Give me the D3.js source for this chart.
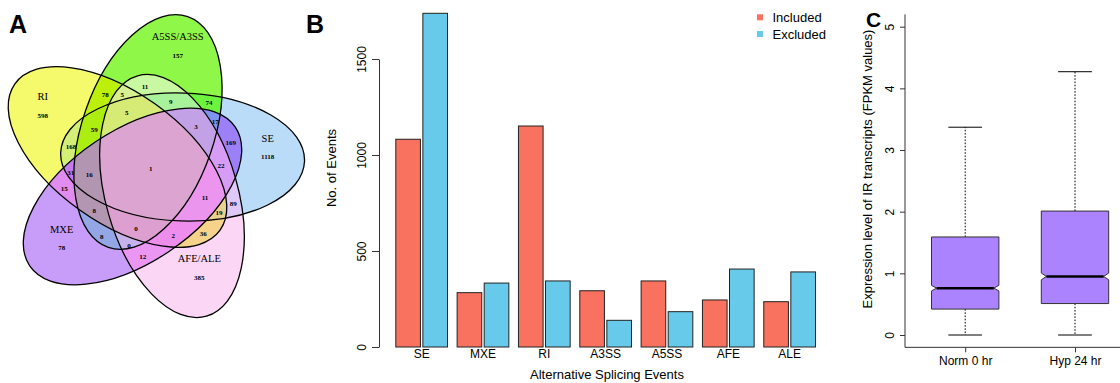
<!DOCTYPE html>
<html>
<head>
<meta charset="utf-8">
<script src="https://cdn.jsdelivr.net/npm/d3@7"></script>
<style>
  body { margin: 0; background: #fff; }
  svg { display: block; }
  text { font-family: "Liberation Sans", Arial, Helvetica, sans-serif; fill: #000; }
  .venn text { font-family: "Liberation Serif", "Times New Roman", serif; }
</style>
</head>
<body>
<div id="chart"></div>
<script>
// ---------- data ----------
// A: Venn of splicing event types
const vennSets = ['RI', 'A5SS/A3SS', 'SE', 'MXE', 'AFE/ALE'];
const vennKeys = ['R', 'G', 'S', 'M', 'F'];
const vennRegions = ['R', 'G', 'S', 'M', 'F',
  'RG', 'GF', 'RS', 'GS', 'SM', 'RM', 'GM', 'MF', 'SF', 'RF',
  'RGF', 'RGS', 'GSF', 'GSM', 'SMF', 'RSM', 'RGM', 'GMF', 'RSF', 'RMF',
  'RGSF', 'GSMF', 'RGSM', 'RGMF', 'RSMF', 'RGSMF'];
const vennCounts = [598, 157, 1118, 78, 385,
  78, 11, 168, 74, 169, 15, 8, 12, 89, 36,
  5, 59, 9, 17, 22, 31, 8, 0, 19, 2,
  5, 3, 16, 0, 11, 1];

// B: bar chart
const barCategories = ['SE', 'MXE', 'RI', 'A3SS', 'A5SS', 'AFE', 'ALE'];
const barSeries = ['Included', 'Excluded'];
const includedCounts = [1082, 283, 1151, 293, 344, 245, 236];
const excludedCounts = [1738, 333, 344, 139, 184, 406, 391];
const barTicks = [0, 500, 1000, 1500];

// C: box plot
const boxGroups = ['Norm 0 hr', 'Hyp 24 hr'];
const boxMin = [0, 0];
const boxQ1 = [0.42, 0.51];
const boxMedian = [0.76, 0.95];
const boxQ3 = [1.59, 2.01];
const boxMax = [3.37, 4.27];
const boxNotch = [0.045, 0.055];
const boxTicks = [0, 1, 2, 3, 4, 5];

// ---------- layout / style ----------
const W = 1120, H = 383;
// ellipse geometry of the five-set diagram (px, degrees)
const vennShapes = {
  S: { cx: 182.6, cy: 157, rx: 122, ry: 64, rot: 2 },
  G: { cx: 148, cy: 132, rx: 122, ry: 66, rot: -71 },
  R: { cx: 117.5, cy: 157, rx: 126, ry: 65, rot: -144.5 },
  M: { cx: 132.5, cy: 196.5, rx: 124, ry: 66, rot: 146 },
  F: { cx: 172, cy: 196, rx: 125, ry: 66, rot: 74 }
};
const regionColor = {
  R: '#f4fa6c', G: '#8ff748', S: '#badcf9', M: '#c89cf9', F: '#fcd7f5',
  RG: '#bcef0a', GF: '#c8f9a2', RS: '#d3ef78', GS: '#6ef43e', SM: '#9c80f8',
  RM: '#e08cf0', GM: '#93a6e5', MF: '#ea96f2', SF: '#dfc9f8', RF: '#f6d38a',
  RGF: '#d8f190', RGS: '#adee12', GSF: '#a8f29c', GSM: '#7d95ee', SMF: '#d79cf5',
  RSM: '#c479ec', RGM: '#b396b2', GMF: '#c8b2ea', RSF: '#e9d28f', RMF: '#ef8ded',
  RGSF: '#d6ea76', GSMF: '#c3a1e6', RGSM: '#b195b1', RGMF: '#dc9fd0', RSMF: '#ec95ee',
  RGSMF: '#dca5d1'
};
// where each count sits (px)
const regionLabelPos = {
  R: [42.7, 115.7], G: [177.7, 55.7], S: [267.7, 157.3], M: [61.7, 248.3], F: [199.3, 277.7],
  RG: [105.3, 95], GF: [145, 86.7], RS: [71, 147.3], GS: [209, 103.3], SM: [230.7, 142.7],
  RM: [64.3, 189], GM: [101.7, 237.3], MF: [142.7, 256.7], SF: [233.3, 204], RF: [203.3, 234.3],
  RGF: [122.3, 95], RGS: [94.3, 130], GSF: [170.7, 102.3], GSM: [215.3, 121.7], SMF: [221, 165.7],
  RSM: [70.7, 173.3], RGM: [94.3, 211], GMF: [129, 245.7], RSF: [219, 212.7], RMF: [173.3, 236],
  RGSF: [126.7, 113.3], GSMF: [196, 126.7], RGSM: [89.3, 175], RGMF: [136, 229], RSMF: [205, 197.7],
  RGSMF: [150.7, 169.3]
};
const setLabelPos = { R: [42.7, 96.7], G: [177.7, 36.7], S: [267.7, 138.3], M: [61.7, 229], F: [199.3, 258.3] };

const svg = d3.select('#chart').append('svg')
  .attr('width', W).attr('height', H);

// ---------- A: Venn ----------
const drawEllipse = (sel, k) => {
  const e = vennShapes[k];
  return sel.append('ellipse')
    .attr('cx', e.cx).attr('cy', e.cy)
    .attr('rx', e.rx).attr('ry', e.ry)
    .attr('transform', `rotate(${e.rot},${e.cx},${e.cy})`);
};

const defs = svg.append('defs');
vennKeys.forEach(k => drawEllipse(defs.append('clipPath').attr('id', 'vc-' + k), k));
vennRegions.forEach(r => {
  const m = defs.append('mask').attr('id', 'vm-' + r)
    .attr('maskUnits', 'userSpaceOnUse')
    .attr('x', 0).attr('y', 0).attr('width', 330).attr('height', H);
  m.append('rect').attr('width', 330).attr('height', H).attr('fill', '#fff');
  vennKeys.filter(k => !r.includes(k)).forEach(k => drawEllipse(m, k).attr('fill', '#000'));
});

const venn = svg.append('g').attr('class', 'venn');
vennRegions.forEach(r => {
  let g = venn.append('g').attr('mask', `url(#vm-${r})`);
  r.split('').forEach(k => { g = g.append('g').attr('clip-path', `url(#vc-${k})`); });
  g.append('rect').attr('width', 330).attr('height', H).attr('fill', regionColor[r]);
});
vennKeys.forEach(k => {
  drawEllipse(venn, k).attr('fill', 'none').attr('stroke', '#000').attr('stroke-width', 1.3);
});
venn.selectAll('text.count')
  .data(vennRegions)
  .join('text')
  .attr('class', 'count')
  .attr('x', r => regionLabelPos[r][0])
  .attr('y', r => regionLabelPos[r][1])
  .attr('text-anchor', 'middle')
  .attr('dominant-baseline', 'central')
  .attr('font-size', 7)
  .attr('font-weight', 'bold')
  .text((r, i) => vennCounts[i]);
venn.selectAll('text.setname')
  .data(vennKeys)
  .join('text')
  .attr('class', 'setname')
  .attr('x', k => setLabelPos[k][0])
  .attr('y', k => setLabelPos[k][1])
  .attr('text-anchor', 'middle')
  .attr('dominant-baseline', 'central')
  .attr('font-size', 10.5)
  .text((k, i) => vennSets[i]);

// ---------- B: bars ----------
const yBar = d3.scaleLinear().domain([0, 1500]).range([347, 59]);
const x0 = d3.scaleBand().domain(barCategories).range([391, 820.3]);
const x1 = d3.scaleBand().domain(barSeries).range([4.8, 56.5]).paddingInner(0.09);
const barColor = d3.scaleOrdinal().domain(barSeries).range(['#f8725f', '#68caea']);

const barData = barCategories.map((c, i) => ({
  cat: c,
  values: [
    { series: 'Included', value: includedCounts[i] },
    { series: 'Excluded', value: excludedCounts[i] }
  ]
}));

svg.append('g').selectAll('g.grp')
  .data(barData)
  .join('g')
  .attr('class', 'grp')
  .attr('transform', d => `translate(${x0(d.cat)},0)`)
  .selectAll('rect')
  .data(d => d.values)
  .join('rect')
  .attr('x', d => x1(d.series))
  .attr('y', d => yBar(d.value))
  .attr('width', x1.bandwidth())
  .attr('height', d => yBar(0) - yBar(d.value))
  .attr('fill', d => barColor(d.series))
  .attr('stroke', '#222')
  .attr('stroke-width', 1);

const yAxisB = svg.append('g')
  .attr('transform', 'translate(379,0)')
  .call(d3.axisLeft(yBar).tickValues(barTicks).tickFormat(d3.format('d')).tickSize(7).tickSizeOuter(0));
yAxisB.select('.domain').attr('stroke', '#333');
yAxisB.selectAll('.tick line').attr('stroke', '#333');
yAxisB.selectAll('.tick text')
  .attr('x', 0).attr('y', -13.5).attr('dy', null)
  .attr('transform', 'rotate(-90)')
  .attr('text-anchor', 'middle')
  .attr('font-size', 12)
  .attr('font-family', null);

svg.append('g').selectAll('text')
  .data(barCategories)
  .join('text')
  .attr('x', d => x0(d) + x0.bandwidth() / 2)
  .attr('y', 357.5)
  .attr('text-anchor', 'middle')
  .attr('font-size', 12)
  .text(d => d);

svg.append('text')
  .attr('x', 607).attr('y', 379)
  .attr('text-anchor', 'middle')
  .attr('font-size', 13)
  .text('Alternative Splicing Events');
svg.append('text')
  .attr('transform', 'translate(336,168) rotate(-90)')
  .attr('text-anchor', 'middle')
  .attr('font-size', 13)
  .text('No. of Events');

const legend = svg.append('g').selectAll('g')
  .data(barSeries)
  .join('g')
  .attr('transform', (d, i) => `translate(760,${17.3 + i * 16.7})`);
legend.append('rect')
  .attr('x', -3).attr('y', -3).attr('width', 6).attr('height', 6)
  .attr('fill', d => barColor(d));
legend.append('text')
  .attr('x', 12.5).attr('y', 0)
  .attr('dominant-baseline', 'central')
  .attr('font-size', 13)
  .text(d => d);

// ---------- C: box plot ----------
const yBox = d3.scaleLinear().domain([0, 5]).range([335, 26.7]);
const xBox = d3.scalePoint().domain(boxGroups).range([965.2, 1075]);
const halfW = 33.7, notchFrac = 0.85;

svg.append('path')
  .attr('d', `M905,${yBox(5.2)}V${yBox(-0.2)}H${W}`)
  .attr('fill', 'none').attr('stroke', '#333').attr('stroke-width', 1);

const yAxisC = svg.append('g')
  .attr('transform', 'translate(905,0)')
  .call(d3.axisLeft(yBox).tickValues(boxTicks).tickFormat(d3.format('d')).tickSize(5).tickSizeOuter(0));
yAxisC.select('.domain').remove();
yAxisC.selectAll('.tick line').attr('stroke', '#333');
yAxisC.selectAll('.tick text')
  .attr('x', 0).attr('y', -11.5).attr('dy', null)
  .attr('transform', 'rotate(-90)')
  .attr('text-anchor', 'middle')
  .attr('font-size', 12)
  .attr('font-family', null);

const xAxisC = svg.append('g')
  .attr('transform', `translate(0,${yBox(-0.2)})`)
  .call(d3.axisBottom(xBox).tickSize(5).tickSizeOuter(0));
xAxisC.select('.domain').remove();
xAxisC.selectAll('.tick line').attr('stroke', '#333');
xAxisC.selectAll('.tick text')
  .attr('y', 9).attr('dy', '0.71em')
  .attr('font-size', 12)
  .attr('font-family', null);

svg.append('text')
  .attr('transform', 'translate(872,169) rotate(-90)')
  .attr('text-anchor', 'middle')
  .attr('font-size', 13)
  .text('Expression level of IR transcripts (FPKM values)');

const boxData = boxGroups.map((g, i) => ({
  g, min: boxMin[i], q1: boxQ1[i], med: boxMedian[i], q3: boxQ3[i], max: boxMax[i], notch: boxNotch[i]
}));
const boxes = svg.append('g').selectAll('g')
  .data(boxData)
  .join('g')
  .attr('transform', d => `translate(${xBox(d.g)},0)`);

boxes.append('line')
  .attr('y1', d => yBox(d.q3)).attr('y2', d => yBox(d.max))
  .attr('stroke', '#000').attr('stroke-dasharray', '1.6,1.6');
boxes.append('line')
  .attr('y1', d => yBox(d.q1)).attr('y2', d => yBox(d.min))
  .attr('stroke', '#000').attr('stroke-dasharray', '1.6,1.6');
boxes.selectAll('line.cap')
  .data(d => [d.min, d.max])
  .join('line')
  .attr('class', 'cap')
  .attr('x1', -halfW / 2).attr('x2', halfW / 2)
  .attr('y1', v => yBox(v)).attr('y2', v => yBox(v))
  .attr('stroke', '#000');
boxes.append('path')
  .attr('d', d => {
    const w = halfW, f = notchFrac * halfW;
    const pts = [
      [-w, yBox(d.q1)], [w, yBox(d.q1)], [w, yBox(d.med - d.notch)], [f, yBox(d.med)],
      [w, yBox(d.med + d.notch)], [w, yBox(d.q3)], [-w, yBox(d.q3)], [-w, yBox(d.med + d.notch)],
      [-f, yBox(d.med)], [-w, yBox(d.med - d.notch)]
    ];
    return d3.line()(pts) + 'Z';
  })
  .attr('fill', '#ab82ff')
  .attr('stroke', '#333')
  .attr('stroke-width', 1);
boxes.append('line')
  .attr('x1', -notchFrac * halfW).attr('x2', notchFrac * halfW)
  .attr('y1', d => yBox(d.med)).attr('y2', d => yBox(d.med))
  .attr('stroke', '#000').attr('stroke-width', 2.5);

// ---------- panel letters ----------
const letters = [['A', 9, 33, 25], ['B', 306, 33, 25], ['C', 866, 27, 21]];
svg.selectAll('text.panel')
  .data(letters)
  .join('text')
  .attr('class', 'panel')
  .attr('x', d => d[1]).attr('y', d => d[2])
  .attr('font-size', d => d[3])
  .attr('font-weight', 'bold')
  .text(d => d[0]);
</script>
</body>
</html>
